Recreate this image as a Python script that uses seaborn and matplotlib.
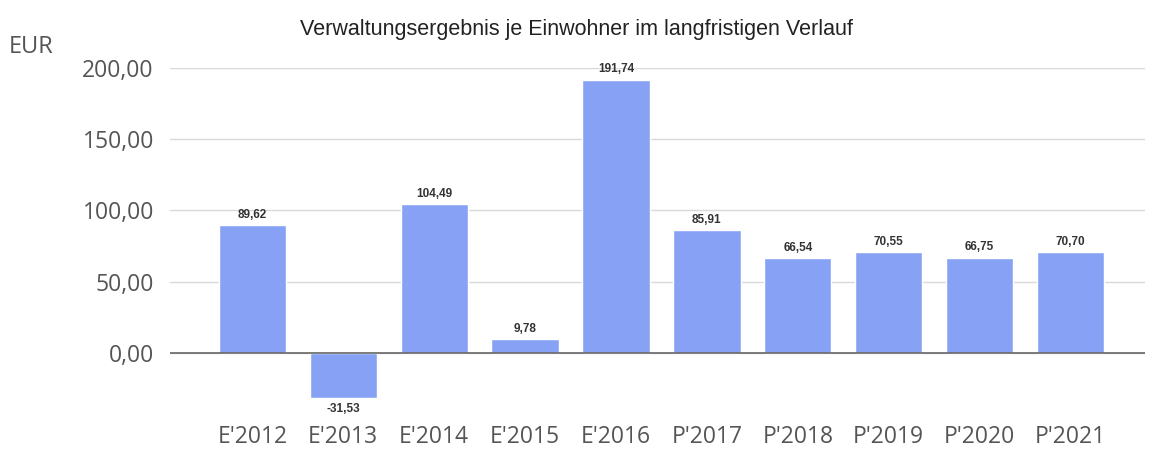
import pandas as pd
import seaborn as sns
import matplotlib.pyplot as plt
from matplotlib.ticker import FuncFormatter

# Chart data
years = ["E'2012", "E'2013", "E'2014", "E'2015", "E'2016",
         "P'2017", "P'2018", "P'2019", "P'2020", "P'2021"]
values = [89.62, -31.53, 104.49, 9.78, 191.74, 85.91, 66.54, 70.55, 66.75, 70.70]

df = pd.DataFrame({"Jahr": years, "Wert": values})

sns.set_style("white")
plt.rcParams["font.family"] = ["Liberation Sans", "DejaVu Sans"]

fig = plt.figure(figsize=(11.52, 4.5), dpi=100)
ax = fig.add_axes([0.148, 0.058, 0.846, 0.791])

sns.barplot(data=df, x="Jahr", y="Wert", color="#87a2f5", saturation=1,
            width=0.74, ax=ax)

ax.set_ylim(-50, 200)
ax.set_xlim(-0.9, 9.82)
ax.set_yticks([0, 50, 100, 150, 200])
ax.yaxis.set_major_formatter(FuncFormatter(lambda v, p: f"{v:.2f}".replace(".", ",")))
ax.grid(axis="y", color="#d9d9d9", linewidth=1)
ax.set_axisbelow(True)
ax.axhline(0, color="#666666", linewidth=1.2)
for s in ax.spines.values():
    s.set_visible(False)

ax.tick_params(axis="both", length=0, labelsize=16.5, labelcolor="#555555")
for lbl in ax.get_xticklabels() + ax.get_yticklabels():
    lbl.set_family(["Open Sans", "DejaVu Sans"])
ax.tick_params(axis="y", pad=12)
ax.tick_params(axis="x", pad=1)
ax.set_xlabel("")
ax.set_ylabel("")

# value labels
for i, v in enumerate(values):
    txt = f"{v:.2f}".replace(".", ",")
    if v >= 0:
        ax.text(i, v + 3, txt, ha="center", va="bottom", fontsize=8.5, fontweight="bold", color="#333333")
    else:
        ax.text(i, v - 4, txt, ha="center", va="top", fontsize=8.5, fontweight="bold", color="#333333")

fig.text(0.5, 0.935, "Verwaltungsergebnis je Einwohner im langfristigen Verlauf",
         ha="center", va="center", fontsize=15.5, color="#222222")
fig.text(0.008, 0.895, "EUR", ha="left", va="center", fontsize=17, color="#555555",
         family=["Open Sans", "DejaVu Sans"])

plt.savefig("out.png", dpi=100)
